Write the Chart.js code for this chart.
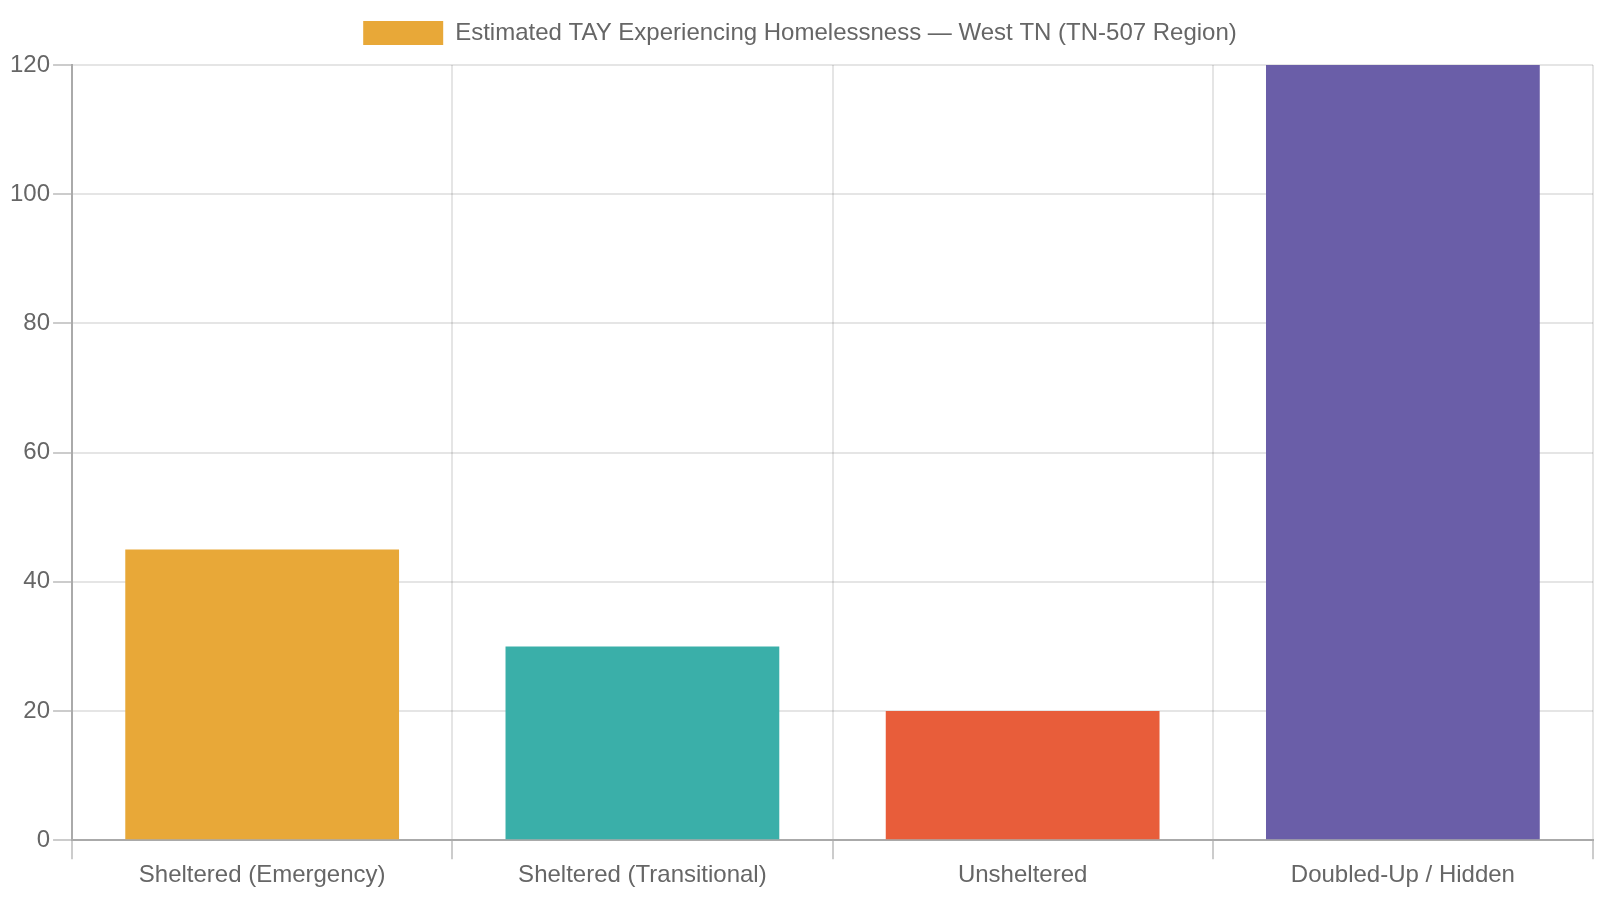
<!DOCTYPE html>
<html>
<head>
<meta charset="utf-8">
<script src="https://cdn.jsdelivr.net/npm/chart.js@4"></script>
<style>
  html, body { margin: 0; padding: 0; background: #fff; }
  #wrap { width: 1600px; height: 900px; }
</style>
</head>
<body>
<div id="wrap"><canvas id="tay"></canvas></div>
<script>
const categorias = ["Sheltered (Emergency)", "Sheltered (Transitional)", "Unsheltered", "Doubled-Up / Hidden"];
const valores = [45, 30, 20, 150];
const colores = ["#E8A838", "#3AAFA9", "#E85D3A", "#6A5EA8"];
const etiqueta = "Estimated TAY Experiencing Homelessness \u2014 West TN (TN-507 Region)";

Chart.defaults.font.size = 24;
Chart.defaults.color = "#666";

// un poco mas de aire debajo de la leyenda
const plugin_margen_leyenda = {
  id: "margenLeyenda",
  beforeInit(chart) {
    const fitOriginal = chart.legend.fit;
    chart.legend.fit = function () {
      fitOriginal.bind(chart.legend)();
      this.height += 10;
    };
  },
};

const ctx = document.getElementById("tay").getContext("2d");
const chart_tay = new Chart(ctx, {
  type: "bar",
  data: {
    labels: categorias,
    datasets: [
      {
        label: etiqueta,
        backgroundColor: colores,
        data: valores,
      },
    ],
  },
  options: {
    responsive: true,
    maintainAspectRatio: false,
    animation: false,
    layout: { padding: { left: 7, right: 7, bottom: 8, top: 1 } },
    scales: {
      x: {
        grid: { color: "rgba(0,0,0,0.1)", tickColor: "rgba(0,0,0,0.2)", lineWidth: 2, tickLength: 19 },
        border: { color: "#aaa", width: 2 },
        ticks: { padding: 2 },
      },
      y: {
        min: 0,
        max: 120,
        ticks: { stepSize: 20, padding: 3 },
        grid: { color: "rgba(0,0,0,0.1)", tickColor: "rgba(0,0,0,0.2)", lineWidth: 2, tickLength: 19 },
        border: { color: "#aaa", width: 2 },
      },
    },
    plugins: {
      legend: {
        labels: { boxWidth: 80, boxHeight: 24, padding: 20 },
      },
      tooltip: { enabled: false },
    },
  },
  plugins: [plugin_margen_leyenda],
});
</script>
</body>
</html>
